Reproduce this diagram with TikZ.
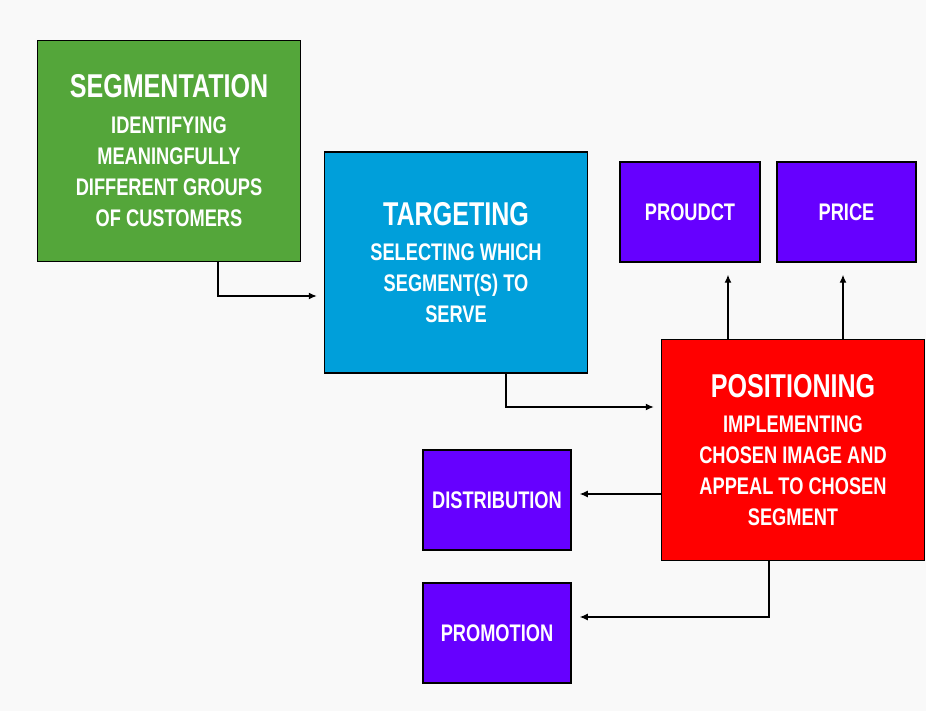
\documentclass[tikz,border=0pt]{standalone}
\usepackage{fontspec}
\setmainfont{Liberation Sans}[FakeStretch=0.76]
\usepackage{xcolor}
\usetikzlibrary{arrows.meta}

\definecolor{segGreen}{RGB}{84,166,58}
\definecolor{tarBlue}{RGB}{0,159,218}
\definecolor{posRed}{RGB}{255,0,0}
\definecolor{mixPurple}{RGB}{102,0,255}
\definecolor{pageGray}{RGB}{249,249,249}

\tikzset{
	stagebox/.style={draw=black, line width=1.5pt, text=white, align=center, inner sep=0pt, minimum width=263pt, minimum height=221pt, font=\fontsize{24}{31}\selectfont\bfseries},
	mixbox/.style={draw=black, line width=1.5pt, fill=mixPurple, text=white, inner sep=0pt, minimum width=144pt, minimum height=100pt, font=\fontsize{24}{28}\selectfont\bfseries},
	link/.style={-{Latex[length=8pt,width=7pt]}, line width=1.3pt, shorten >=7pt}
}
\newcommand{\headline}[1]{{\fontsize{33}{34}\selectfont #1}}

\begin{document}
\begin{tikzpicture}[x=1pt,y=1pt]
	\fill [pageGray] (0,0) rectangle (926,-711);
	\useasboundingbox (0,0) rectangle (926,-711);
	\node [stagebox, fill=segGreen] at (169,-151) (seg) {\headline{SEGMENTATION}\\[5pt] IDENTIFYING\\ MEANINGFULLY\\ DIFFERENT GROUPS\\ OF CUSTOMERS};
	\node [stagebox, fill=tarBlue] at (456,-262.5) (tar) {\headline{TARGETING}\\[4pt] SELECTING WHICH\\ SEGMENT(S) TO\\ SERVE};
	\node [stagebox, fill=posRed] at (793,-450) (pos) {\headline{POSITIONING}\\[4pt] IMPLEMENTING\\ CHOSEN IMAGE AND\\ APPEAL TO CHOSEN\\ SEGMENT};
	\node [mixbox, minimum width=140pt] at (690,-212) (prod) {PROUDCT};
	\node [mixbox, minimum width=139pt] at (846.5,-212) (price) {PRICE};
	\node [mixbox, minimum width=148pt] at (497,-500) (dist) {DISTRIBUTION};
	\node [mixbox, minimum width=148pt] at (497,-633) (promo) {PROMOTION};
	\draw [link] ([xshift=49pt]seg.south) |- ([yshift=-33.5pt]tar.west);
	\draw [link] ([xshift=50pt]tar.south) |- ([yshift=43pt]pos.west);
	\draw [link, shorten >=12pt] ([xshift=-65pt]pos.north) -- ([xshift=38pt]prod.south);
	\draw [link, shorten >=12pt] ([xshift=50pt]pos.north) -- ([xshift=-3.5pt]price.south);
	\draw [link, shorten >=8pt] ([yshift=-44pt]pos.west) -- ([yshift=6pt]dist.east);
	\draw [link, shorten >=8pt] ([xshift=-24pt]pos.south) |- ([yshift=16pt]promo.east);
\end{tikzpicture}
\end{document}
